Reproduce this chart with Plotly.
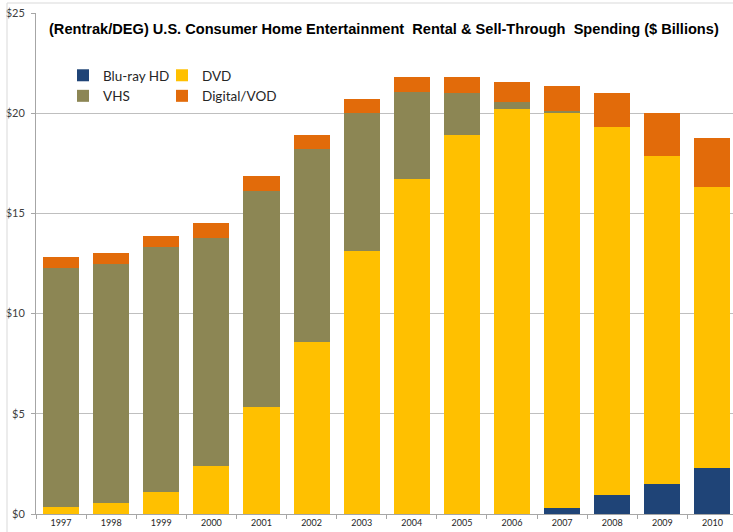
import plotly.graph_objects as go

# U.S. consumer home entertainment spending, $ billions (Rentrak/DEG)
years = ["1997", "1998", "1999", "2000", "2001", "2002", "2003",
         "2004", "2005", "2006", "2007", "2008", "2009", "2010"]
bluray = [0, 0, 0, 0, 0, 0, 0, 0, 0, 0, 0.30, 0.93, 1.52, 2.30]
dvd = [0.35, 0.55, 1.10, 2.40, 5.34, 8.58, 13.12,
       16.72, 18.91, 20.20, 19.70, 18.38, 16.34, 14.02]
vhs = [11.93, 11.92, 12.22, 11.37, 10.78, 9.63, 6.88,
       4.34, 2.09, 0.36, 0.10, 0, 0, 0]
vod = [0.54, 0.55, 0.55, 0.75, 0.75, 0.70, 0.71,
       0.75, 0.81, 1.00, 1.26, 1.69, 2.14, 2.44]
y_ticks = [0, 5, 10, 15, 20, 25]
y_labels = ["$0", "$5", "$10", "$15", "$20", "$25"]

# legend column: Blu-ray/VHS on the left, DVD/Digital on the right
series = [
    ("Blu-ray HD", bluray, "#1F4477", "legend"),
    ("DVD", dvd, "#FFC000", "legend2"),
    ("VHS", vhs, "#8C8654", "legend"),
    ("Digital/VOD", vod, "#E26B0A", "legend2"),
]

fig = go.Figure()
for name, vals, color, leg in series:
    fig.add_trace(go.Bar(
        x=years, y=vals, name=name, legend=leg,
        marker=dict(color=color, line=dict(width=0)),
    ))

W, H = 733, 532
ml, mr, mt, mb = 36, 0, 13, 18
pw, ph = W - ml - mr, H - mt - mb


def px_x(x):
    return (x - ml) / pw


def px_y(y):
    return (H - mb - y) / ph


legend_font = dict(family="Lato, 'Open Sans', sans-serif", size=13.5, color="#262626")
legend_common = dict(orientation="v", xanchor="left", yanchor="top", traceorder="normal",
                     font=legend_font, itemwidth=30, tracegroupgap=0,
                     bgcolor="rgba(0,0,0,0)")
fig.update_layout(
    width=W, height=H,
    margin=dict(l=ml, r=mr, t=mt, b=mb),
    paper_bgcolor="white", plot_bgcolor="white",
    barmode="stack", bargap=0.28,
    showlegend=True,
    legend=dict(x=px_x(63), y=px_y(60), **legend_common),
    legend2=dict(x=px_x(162), y=px_y(60), **legend_common),
    xaxis=dict(
        type="category", range=[-0.5, 13.41],
        showline=True, linecolor="#A6A6A6", linewidth=1,
        ticks="outside", tickson="boundaries", ticklen=4, tickcolor="#A6A6A6",
        tickfont=dict(family="Lato, 'Open Sans', sans-serif", size=9, color="#262626"),
        showgrid=False,
    ),
    yaxis=dict(
        range=[0, 25], tickvals=y_ticks, ticktext=y_labels,
        showline=True, linecolor="#A6A6A6", linewidth=1,
        ticks="outside", ticklen=4, tickcolor="#A6A6A6",
        showgrid=True, gridcolor="#BFBFBF", gridwidth=1,
        zeroline=False,
        tickfont=dict(family="Lato, 'Open Sans', sans-serif", size=11, color="#404040"),
        ticklabelstandoff=4,
    ),
    annotations=[dict(
        text="<b>(Rentrak/DEG) U.S. Consumer Home Entertainment  Rental &amp; Sell-Through  Spending ($ Billions)</b>",
        xref="paper", yref="paper", x=px_x(384), y=px_y(29),
        xanchor="center", yanchor="middle", showarrow=False,
        font=dict(family="Liberation Sans, Arial, sans-serif", size=14.6, color="#000000"),
    )],
    shapes=[dict(
        type="line", xref="paper", yref="paper",
        x0=px_x(7), x1=px_x(7), y0=px_y(3), y1=px_y(532),
        line=dict(color="#D9D9D9", width=1),
    ), dict(
        type="line", xref="paper", yref="paper",
        x0=px_x(7), x1=px_x(733), y0=px_y(3), y1=px_y(3),
        line=dict(color="#D9D9D9", width=1),
    )],
)

fig.write_html("out.html")
